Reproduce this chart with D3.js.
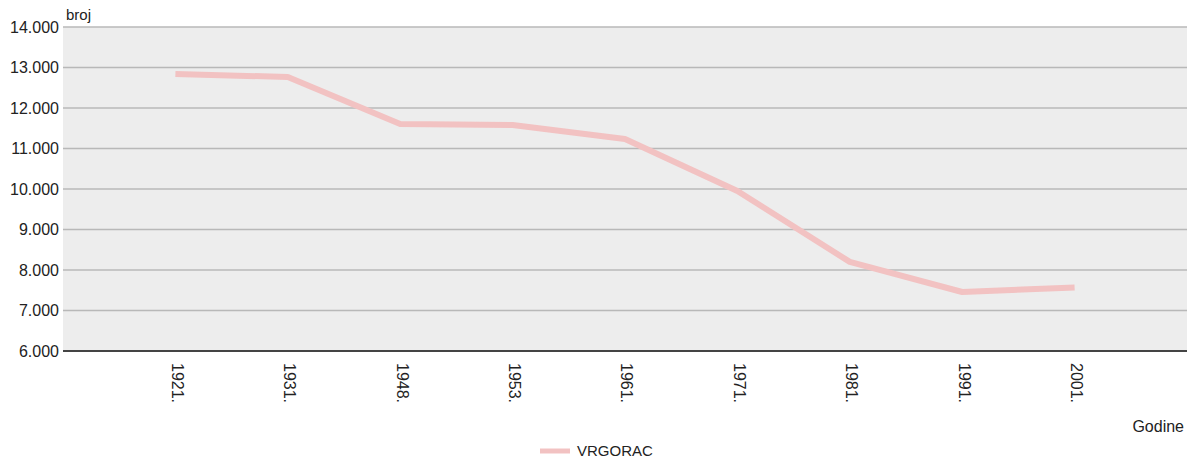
<!DOCTYPE HTML>
<html>
  <head>
    <script src="https://d3js.org/d3.v7.min.js"></script>
    <style>
      body { margin: 0; background: #fff; }
      svg text { font-family: "Liberation Sans", Arial, sans-serif; fill: #222; }
      .grid line { stroke: #b8b8b8; stroke-width: 1.3; }
    </style>
    <title>VRGORAC</title>
  </head>
  <body>
    <svg id="chart"></svg>
    <script>
      var years = ["1921.", "1931.", "1948.", "1953.", "1961.", "1971.", "1981.", "1991.", "2001."];
      var vrgorac = [12840, 12765, 11605, 11580, 11235, 9950, 8200, 7457, 7568];
      var yTicks = [6000, 7000, 8000, 9000, 10000, 11000, 12000, 13000, 14000];

      var width = 1190, height = 462;
      var plotLeft = 63, plotRight = 1187, plotTop = 27, plotBottom = 351;

      var svg = d3.select("#chart").attr("width", width).attr("height", height);

      // points sit at 1..9 of a 0..10 domain
      var x = d3.scaleLinear().domain([0, years.length + 1]).range([plotLeft, plotRight]);
      var y = d3.scaleLinear().domain([6000, 14000]).range([plotBottom, plotTop]);
      var fmt = function(d){ return d3.format(",")(d).replace(/,/g, "."); };

      svg.append("rect").attr("x", plotLeft).attr("y", plotTop)
        .attr("width", plotRight - plotLeft).attr("height", plotBottom - plotTop).attr("fill", "#ededed");

      svg.append("g").attr("class", "grid").selectAll("line").data(yTicks.slice(1)).enter()
        .append("line").attr("x1", plotLeft).attr("x2", plotRight)
        .attr("y1", function(d){ return y(d); }).attr("y2", function(d){ return y(d); });

      svg.append("g").selectAll("text").data(yTicks).enter().append("text")
        .attr("x", plotLeft - 4).attr("y", function(d){ return y(d); }).attr("dy", "0.36em")
        .attr("text-anchor", "end").style("font-size", "16px").text(fmt);

      svg.append("line").attr("x1", plotLeft).attr("x2", plotRight).attr("y1", plotBottom).attr("y2", plotBottom)
        .attr("stroke", "#444").attr("stroke-width", 2);

      svg.append("g").selectAll("text").data(years).enter().append("text")
        .attr("transform", function(d, i){ return "translate(" + (x(i + 1) + 2) + "," + (plotBottom + 12) + ") rotate(90)"; })
        .attr("dy", "0.35em").style("font-size", "16px").text(function(d){ return d; });

      var line = d3.line().x(function(d, i){ return x(i + 1); }).y(function(d){ return y(d); });
      svg.append("path").datum(vrgorac).attr("d", line).attr("fill", "none")
        .attr("stroke", "#f2c2c2").attr("stroke-width", 6).attr("stroke-linejoin", "round");

      svg.append("text").attr("x", 66).attr("y", 20).style("font-size", "15px").text("broj");
      svg.append("text").attr("x", 1184).attr("y", 432).attr("text-anchor", "end")
        .style("font-size", "16px").text("Godine");

      svg.append("line").attr("x1", 540).attr("x2", 570).attr("y1", 451).attr("y2", 451)
        .attr("stroke", "#f2c2c2").attr("stroke-width", 5);
      svg.append("text").attr("x", 577).attr("y", 456).style("font-size", "15px").text("VRGORAC");
    </script>
  </body>
</html>
